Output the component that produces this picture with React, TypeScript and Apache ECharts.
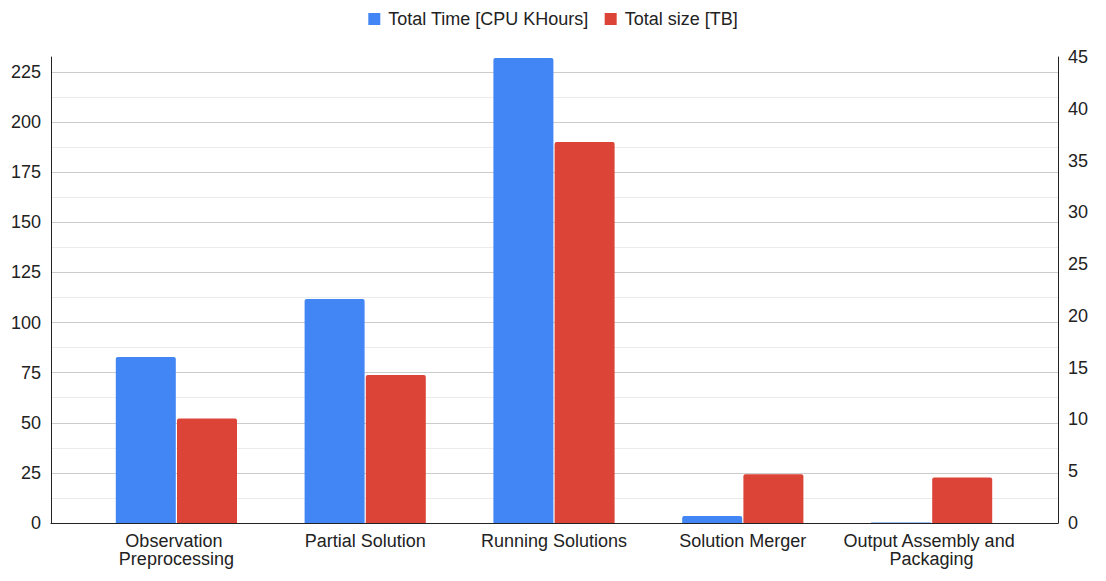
import React, { useEffect, useRef } from "react";
import * as echarts from "echarts";

const categories = [
  "Observation Preprocessing",
  "Partial Solution",
  "Running Solutions",
  "Solution Merger",
  "Output Assembly and Packaging",
];
const totalTimeCpuKHours = [82.8, 111.8, 232, 3.5, 0.2];
const totalSizeTB = [10.1, 14.3, 36.8, 4.7, 4.4];
const seriesNames = ["Total Time [CPU KHours]", "Total size [TB]"];
const leftMax = 232.5;
const leftInterval = 25;
const rightMax = 45;
const rightInterval = 5;

const FONT = "Liberation Sans, Arial, sans-serif";
const BLUE = "#4285F4";
const RED = "#DB4437";
const TXT = "#222222";

export default function App() {
  const ref = useRef<HTMLDivElement>(null);
  useEffect(() => {
    if (!ref.current) return;
    const chart = echarts.init(ref.current, undefined, { renderer: "svg" });
    const option: any = {
      animation: false,
      textStyle: { fontFamily: FONT },
      legend: {
        top: 5,
        left: "center",
        itemWidth: 12,
        itemHeight: 12,
        itemGap: 16,
        icon: "rect",
        data: seriesNames,
        textStyle: { fontFamily: FONT, fontSize: 18, color: TXT, padding: [0, 0, 0, 3] },
      },
      grid: [
        { left: 82, right: 80, top: 57, bottom: 58 },
        { left: 51, right: 48, top: 57, bottom: 58 },
      ],
      xAxis: [
        {
          type: "category",
          gridIndex: 0,
          data: categories,
          axisLine: { show: false },
          axisTick: { show: false },
          axisLabel: {
            interval: 0,
            margin: 9,
            fontSize: 18,
            lineHeight: 18,
            color: TXT,
            fontFamily: FONT,
            width: 185,
            overflow: "break",
          },
        },
        {
          type: "category",
          gridIndex: 1,
          data: categories,
          axisLine: { show: true, lineStyle: { color: "#222", width: 1 } },
          axisTick: { show: false },
          axisLabel: { show: false },
        },
      ],
      yAxis: [
        {
          type: "value",
          gridIndex: 0,
          min: 0,
          max: leftMax,
          interval: leftInterval,
          show: false,
        },
        {
          type: "value",
          gridIndex: 0,
          min: 0,
          max: rightMax,
          interval: rightInterval,
          show: false,
        },
        {
          type: "value",
          gridIndex: 1,
          position: "left",
          min: 0,
          max: leftMax,
          interval: leftInterval,
          axisLine: { show: true, lineStyle: { color: "#222", width: 1 } },
          axisTick: { show: false },
          axisLabel: {
            fontSize: 18,
            color: TXT,
            fontFamily: FONT,
            margin: 10,
            showMaxLabel: false,
          },
          splitLine: { show: true, showMaxLine: false, lineStyle: { color: "#cccccc", width: 1 } },
          minorTick: { show: false, splitNumber: 2 },
          minorSplitLine: { show: true, lineStyle: { color: "#ebebeb", width: 1 } },
        },
        {
          type: "value",
          gridIndex: 1,
          position: "right",
          min: 0,
          max: rightMax,
          interval: rightInterval,
          axisLine: { show: true, lineStyle: { color: "#222", width: 1 } },
          axisTick: { show: false },
          axisLabel: { fontSize: 18, color: TXT, fontFamily: FONT, margin: 10 },
          splitLine: { show: false },
        },
      ],
      series: [
        {
          name: seriesNames[0],
          type: "bar",
          xAxisIndex: 0,
          yAxisIndex: 0,
          data: totalTimeCpuKHours,
          barWidth: 60,
          barGap: "2%",
          itemStyle: { color: BLUE, borderRadius: [2, 2, 0, 0] },
        },
        {
          name: seriesNames[1],
          type: "bar",
          xAxisIndex: 0,
          yAxisIndex: 1,
          data: totalSizeTB,
          barWidth: 60,
          barGap: "2%",
          itemStyle: { color: RED, borderRadius: [2, 2, 0, 0] },
        },
      ],
    };
    chart.setOption(option);
    return () => chart.dispose();
  }, []);
  return (
    <div
      ref={ref}
      style={{ position: "fixed", left: 0, top: 0, width: 1106, height: 581, background: "#fff" }}
    />
  );
}
